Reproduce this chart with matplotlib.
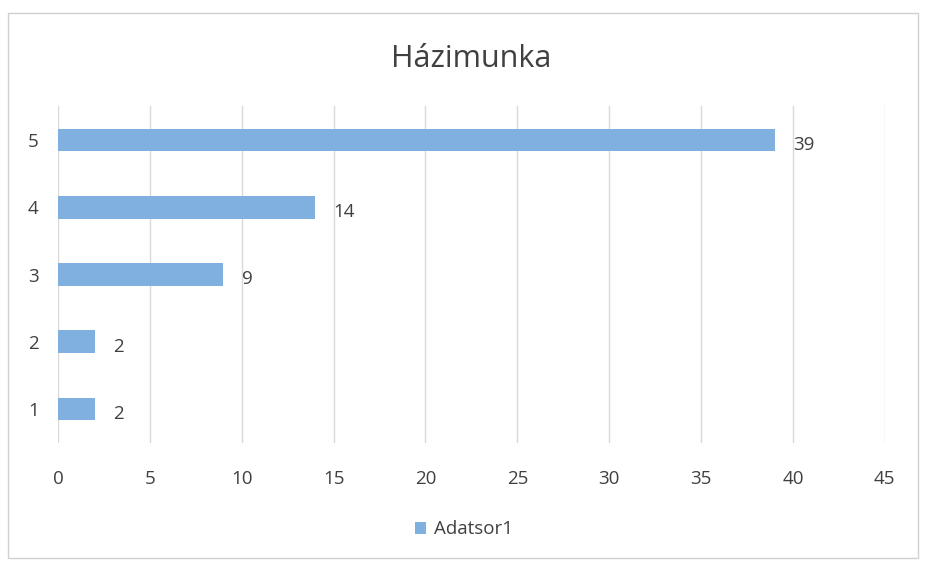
import matplotlib.pyplot as plt
from matplotlib.patches import Rectangle

plt.rcParams['font.family'] = ['Open Sans', 'DejaVu Sans']

categories = ['1', '2', '3', '4', '5']
values = [2, 2, 9, 14, 39]
xticks = [0, 5, 10, 15, 20, 25, 30, 35, 40, 45]
title = 'Házimunka'
series_name = 'Adatsor1'

bar_color = '#7fb0e0'
text_color = '#404040'

fig = plt.figure(figsize=(9.28, 5.69), dpi=100)
ax = fig.add_axes([0.0625, 0.222, 0.891, 0.591])

ypos = range(len(categories))
bars = ax.barh(ypos, values, height=0.34, color=bar_color, label=series_name, zorder=3)

for y, v in zip(ypos, values):
    ax.text(v + 1.0, y - 0.07, str(v), va='center', ha='left',
            fontsize=13.5, color=text_color)

ax.set_xlim(0, 45)
ax.set_ylim(-0.5, len(categories) - 0.5)
ax.set_xticks(xticks)
ax.set_yticks(list(ypos))
ax.set_yticklabels(categories)
ax.tick_params(axis='both', length=0, labelsize=13.5, labelcolor=text_color)
ax.tick_params(axis='x', pad=20)
ax.tick_params(axis='y', pad=14)
ax.grid(axis='x', color='#d9d9d9', linewidth=1, zorder=0)
for s in ax.spines.values():
    s.set_visible(False)

fig.text(0.508, 0.897, title, ha='center', va='center', fontsize=22, color=text_color)

fig.legend(handles=[bars], labels=[series_name], loc='center',
           bbox_to_anchor=(0.5, 0.07), frameon=False, fontsize=13.5,
           labelcolor=text_color, handlelength=0.6, handleheight=0.6,
           handletextpad=0.4)

# chart area border
fig.patches.append(Rectangle((0.009, 0.02), 0.98, 0.958, transform=fig.transFigure,
                             fill=False, edgecolor='#d0d0d0', linewidth=1))

fig.savefig('out.png', dpi=100)
